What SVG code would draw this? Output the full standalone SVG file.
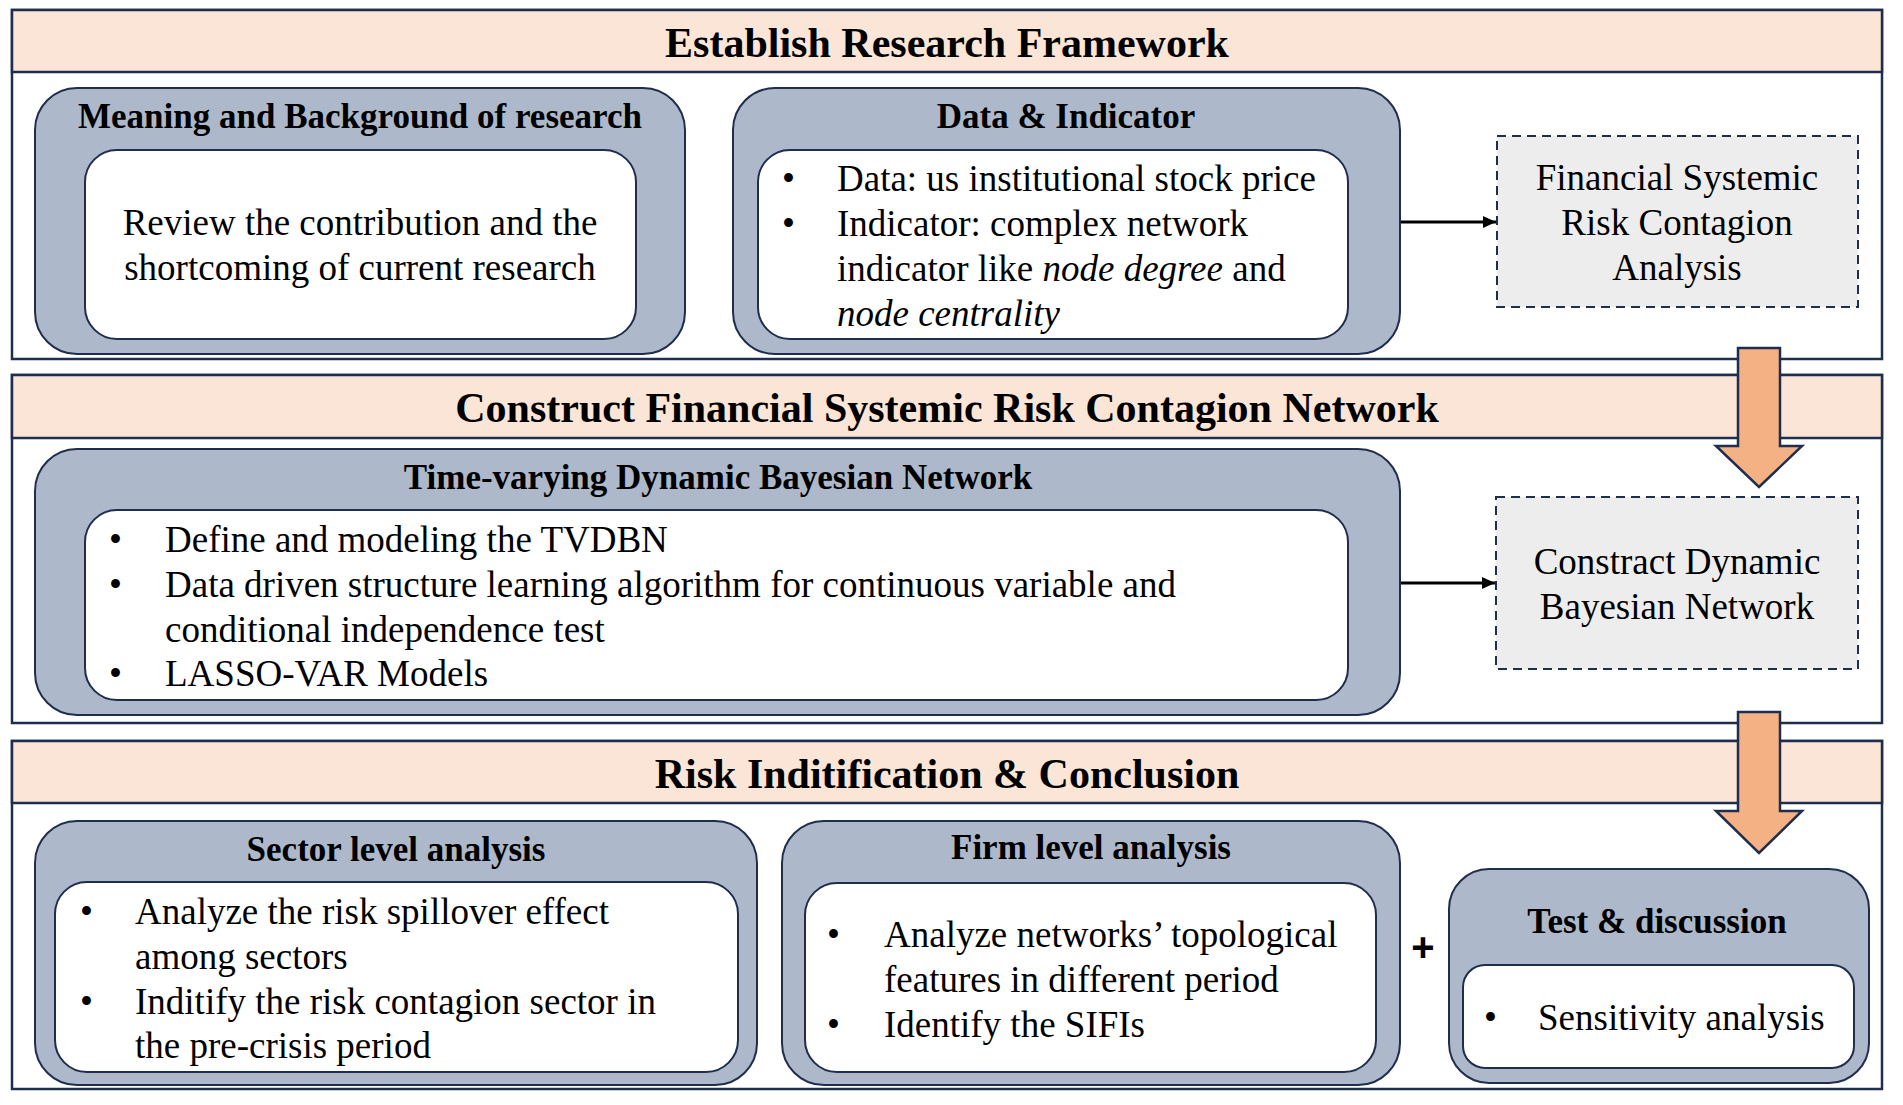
<svg xmlns="http://www.w3.org/2000/svg" width="1903" height="1105" viewBox="0 0 1903 1105">
<defs>
<style>
.sec{fill:#ffffff;stroke:#1f2e4e;stroke-width:2.5}
.hdr{fill:#fbe5d6;stroke:#1f2e4e;stroke-width:2.5}
.outer{fill:#adb9ca;stroke:#1f2e4e;stroke-width:2}
.inner{fill:#ffffff;stroke:#1f2e4e;stroke-width:2}
.dash{fill:#ededed;stroke:#1f2e4e;stroke-width:2;stroke-dasharray:9 6}
.big{font-family:"Liberation Serif","Times New Roman",serif;font-weight:bold;font-size:42px;fill:#000;text-anchor:middle}
.ttl{font-family:"Liberation Serif","Times New Roman",serif;font-weight:bold;font-size:35px;fill:#000;text-anchor:middle}
.txt{font-family:"Liberation Serif","Times New Roman",serif;font-size:37px;fill:#000}
.ctr{text-anchor:middle}
.blk{fill:#f4b183;stroke:#1f2e4e;stroke-width:2.5}
.conn{stroke:#000;stroke-width:3;fill:none}
</style>
<marker id="ah" markerUnits="userSpaceOnUse" markerWidth="14" markerHeight="14" viewBox="0 0 14 14" refX="13" refY="7" orient="auto">
<path d="M0,1 L13,7 L0,13 Z" fill="#000"/>
</marker>
</defs>

<g id="section1">
<rect class="sec" x="12" y="10" width="1870" height="349"/>
<rect class="hdr" x="12" y="10" width="1870" height="62"/>
<text class="big" x="947" y="57">Establish Research Framework</text>
</g>

<g id="section2">
<rect class="sec" x="12" y="375" width="1870" height="348"/>
<rect class="hdr" x="12" y="375" width="1870" height="63"/>
<text class="big" x="947" y="422">Construct Financial Systemic Risk Contagion Network</text>
</g>

<g id="section3">
<rect class="sec" x="12" y="741" width="1870" height="348"/>
<rect class="hdr" x="12" y="741" width="1870" height="62"/>
<text class="big" x="947" y="788">Risk Inditification &amp; Conclusion</text>
</g>

<g id="meaning">
<rect class="outer" x="35" y="88" width="650" height="266" rx="42"/>
<text class="ttl" x="360" y="128">Meaning and Background of research</text>
<rect class="inner" x="85" y="150" width="551" height="189" rx="32"/>
<text class="txt ctr" x="360" y="235">Review the contribution and the</text>
<text class="txt ctr" x="360" y="280">shortcoming of current research</text>
</g>

<g id="data">
<rect class="outer" x="733" y="88" width="667" height="266" rx="42"/>
<text class="ttl" x="1066" y="128">Data &amp; Indicator</text>
<rect class="inner" x="758" y="150" width="590" height="189" rx="32"/>
<text class="txt" x="782" y="191">•</text>
<text class="txt" x="837" y="191">Data: us institutional stock price</text>
<text class="txt" x="782" y="236">•</text>
<text class="txt" x="837" y="236">Indicator: complex network</text>
<text class="txt" x="837" y="281">indicator like <tspan font-style="italic">node degree</tspan> and</text>
<text class="txt" x="837" y="326" font-style="italic">node centrality</text>
</g>

<g id="fsrca">
<rect class="dash" x="1497" y="136" width="361" height="171"/>
<text class="txt ctr" x="1677" y="190">Financial Systemic</text>
<text class="txt ctr" x="1677" y="235">Risk Contagion</text>
<text class="txt ctr" x="1677" y="280">Analysis</text>
</g>

<g id="tvdbn">
<rect class="outer" x="35" y="449" width="1365" height="266" rx="42"/>
<text class="ttl" x="718" y="489">Time-varying Dynamic Bayesian Network</text>
<rect class="inner" x="85" y="510" width="1263" height="190" rx="32"/>
<text class="txt" x="109" y="552">•</text>
<text class="txt" x="165" y="552">Define and modeling the TVDBN</text>
<text class="txt" x="109" y="597">•</text>
<text class="txt" x="165" y="597">Data driven structure learning algorithm for continuous variable and</text>
<text class="txt" x="165" y="642">conditional independence test</text>
<text class="txt" x="109" y="686">•</text>
<text class="txt" x="165" y="686">LASSO-VAR Models</text>
</g>

<g id="cdbn">
<rect class="dash" x="1496" y="497" width="362" height="172"/>
<text class="txt ctr" x="1677" y="574">Constract Dynamic</text>
<text class="txt ctr" x="1677" y="619">Bayesian Network</text>
</g>

<g id="sector">
<rect class="outer" x="35" y="821" width="722" height="264" rx="42"/>
<text class="ttl" x="396" y="861" font-size="37">Sector level analysis</text>
<rect class="inner" x="55" y="882" width="683" height="190" rx="32"/>
<text class="txt" x="80" y="924">•</text>
<text class="txt" x="135" y="924">Analyze the risk spillover effect</text>
<text class="txt" x="135" y="969">among sectors</text>
<text class="txt" x="80" y="1014">•</text>
<text class="txt" x="135" y="1014">Inditify the risk contagion sector in</text>
<text class="txt" x="135" y="1058">the pre-crisis period</text>
</g>

<g id="firm">
<rect class="outer" x="782" y="821" width="618" height="264" rx="42"/>
<text class="ttl" x="1091" y="859">Firm level analysis</text>
<rect class="inner" x="805" y="883" width="571" height="189" rx="32"/>
<text class="txt" x="827" y="947">•</text>
<text class="txt" x="884" y="947">Analyze networks’ topological</text>
<text class="txt" x="884" y="992">features in different period</text>
<text class="txt" x="827" y="1037">•</text>
<text class="txt" x="884" y="1037">Identify the SIFIs</text>
</g>

<g id="plus">
<text x="1423" y="961" font-family="Liberation Sans, Arial, sans-serif" font-weight="bold" font-size="40" text-anchor="middle" fill="#000">+</text>
</g>

<g id="test">
<rect class="outer" x="1449" y="869" width="420" height="214" rx="40"/>
<text class="ttl" x="1657" y="933">Test &amp; discussion</text>
<rect class="inner" x="1463" y="965" width="391" height="103" rx="22"/>
<text class="txt" x="1484" y="1030">•</text>
<text class="txt" x="1538" y="1030">Sensitivity analysis</text>
</g>

<g id="connectors">
<line class="conn" x1="1401" y1="222" x2="1496" y2="222" marker-end="url(#ah)"/>
<line class="conn" x1="1401" y1="583" x2="1495" y2="583" marker-end="url(#ah)"/>
<path class="blk" d="M1738,348 L1780,348 L1780,446 L1802,446 L1759,487 L1716,446 L1738,446 Z"/>
<path class="blk" d="M1738,712 L1780,712 L1780,811 L1802,811 L1759,853 L1716,811 L1738,811 Z"/>
</g>
</svg>
